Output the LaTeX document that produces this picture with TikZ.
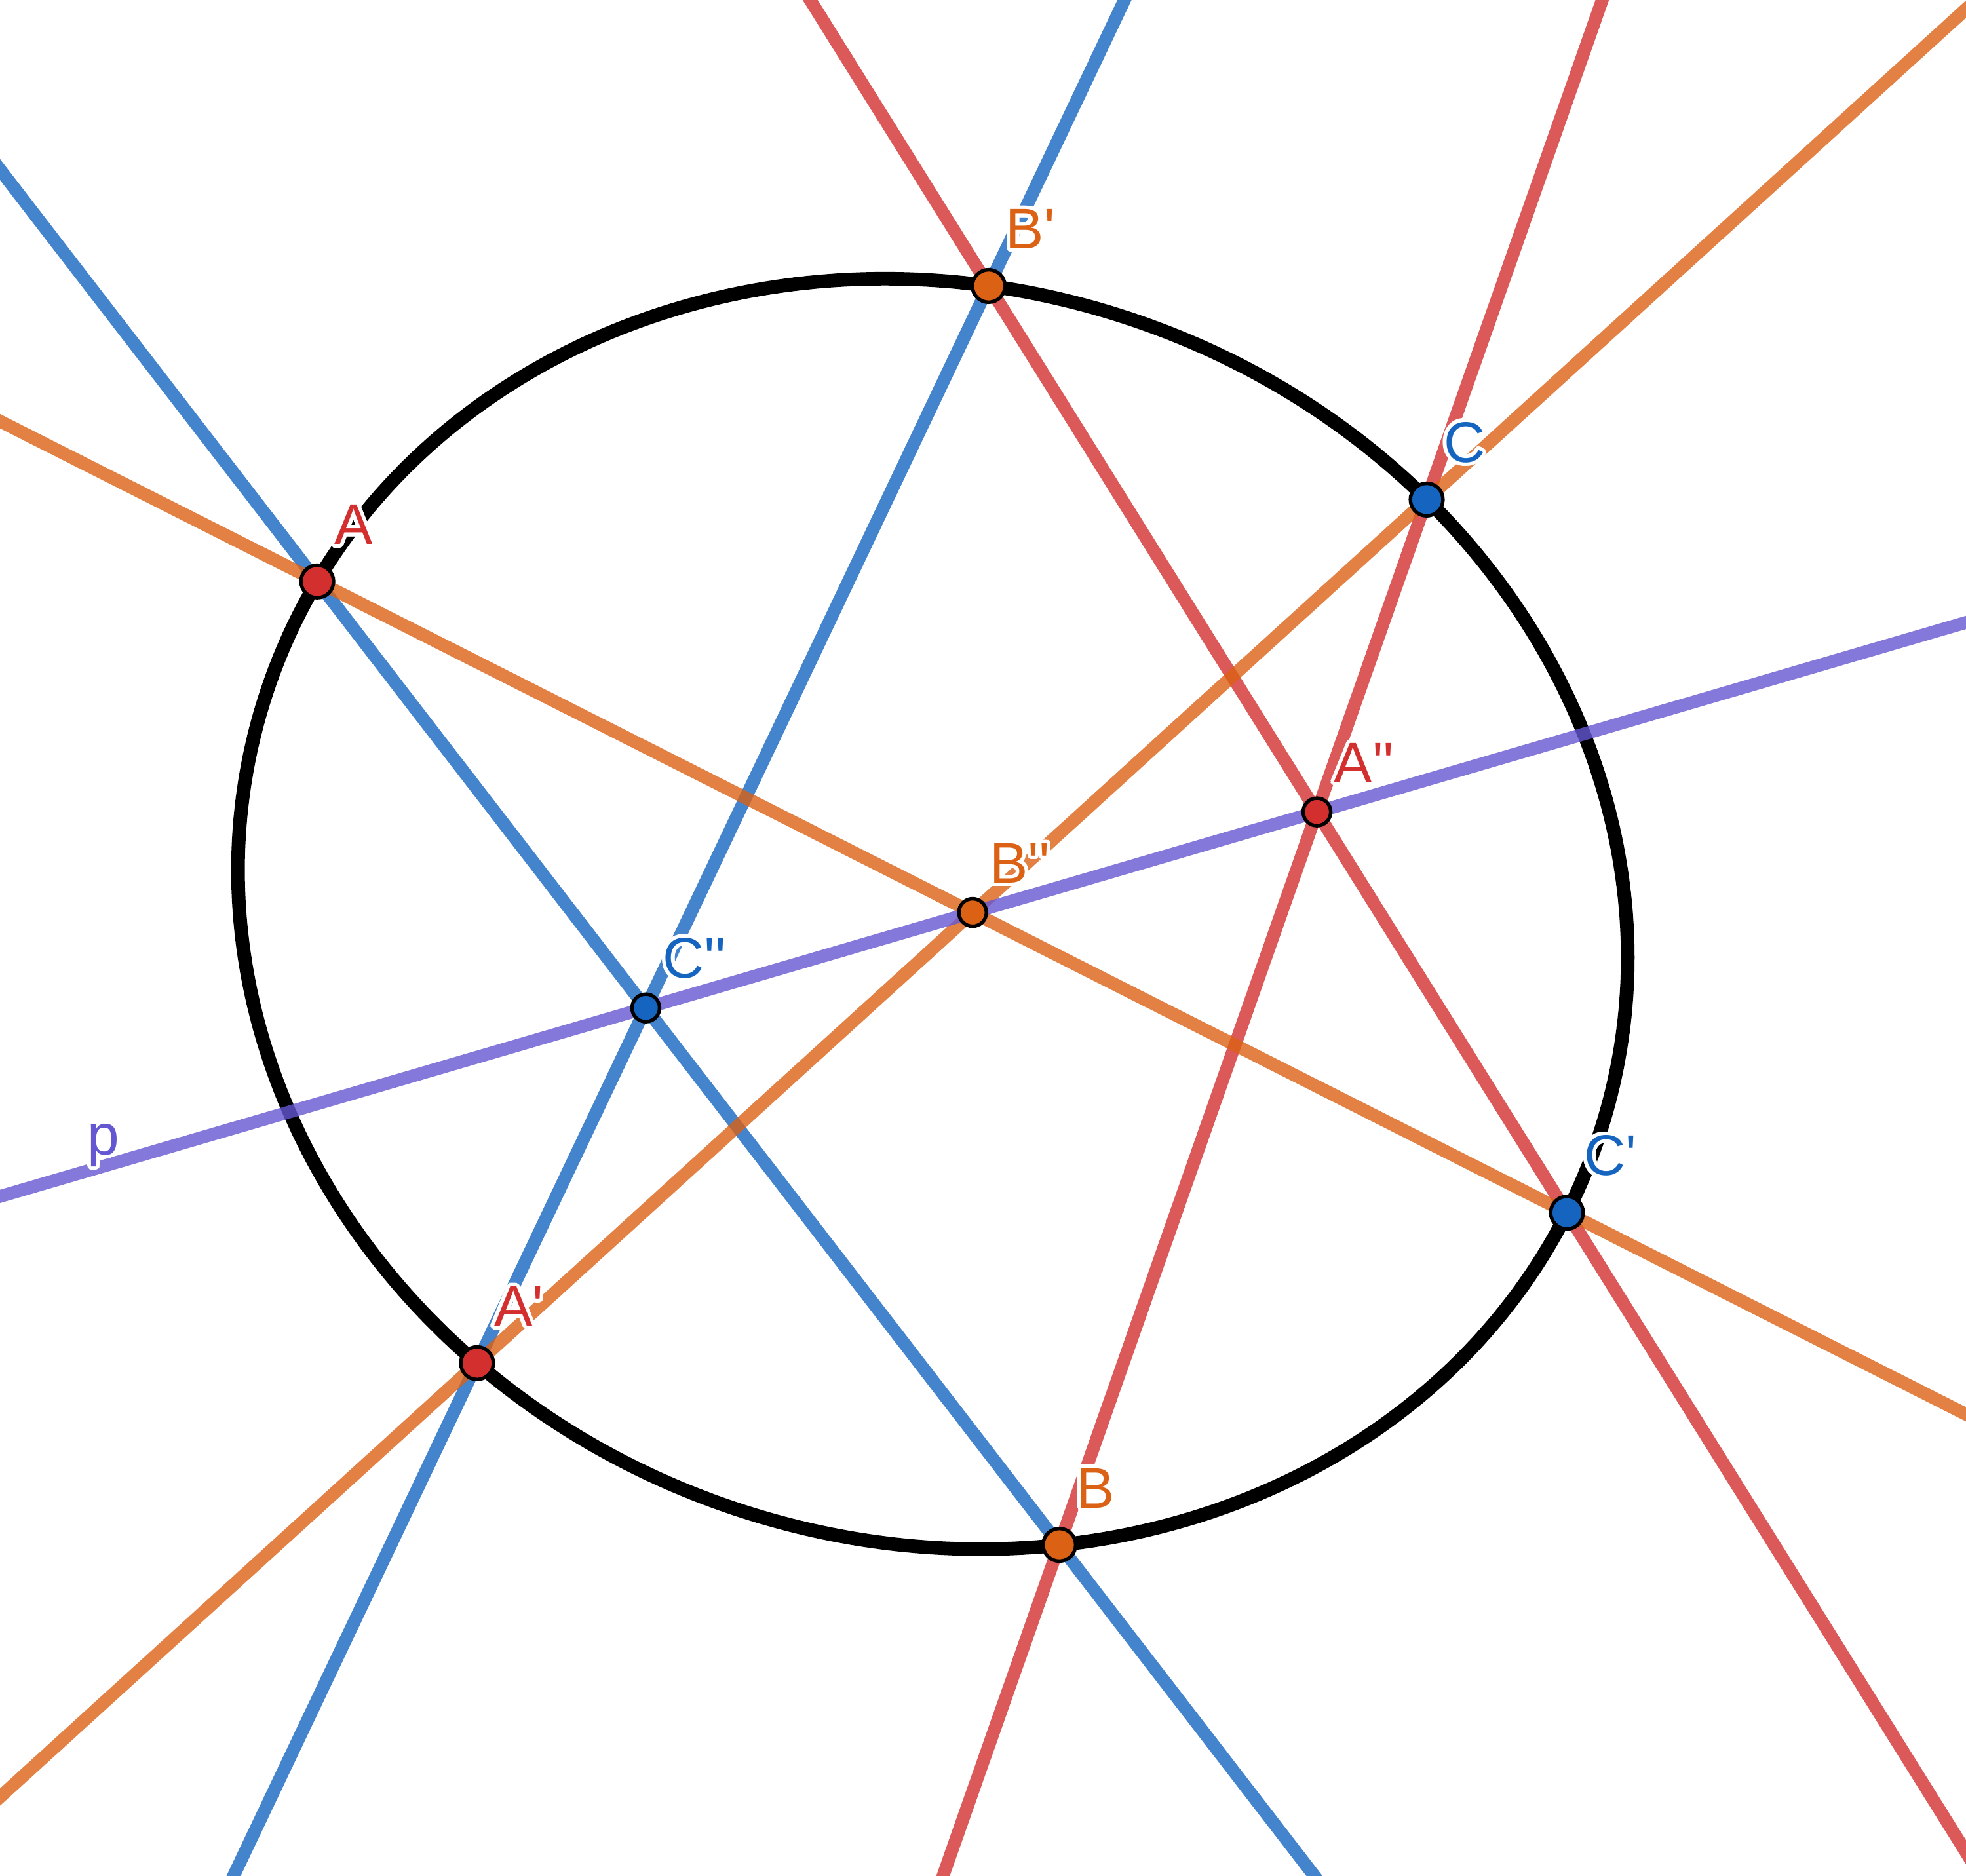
\documentclass[tikz,border=0pt]{standalone}
\usepackage{fontspec}
\setmainfont{Liberation Sans}
\usepackage[copies]{contour}
\contourlength{0.8pt}
\contournumber{24}
\usetikzlibrary{positioning}
\definecolor{ggred}{HTML}{D32F2F}
\definecolor{ggorange}{HTML}{DB6114}
\definecolor{ggblue}{HTML}{1565C0}
\definecolor{ggpurple}{HTML}{6557D2}
\newcommand{\pq}{\textquotesingle}
\tikzset{
  conic/.style={line width=3.1pt},
  ln/.style={line width=2.9pt, draw opacity=0.8, shorten <=-14cm, shorten >=-14cm},
  bigpt/.style={circle, draw=black, line width=0.8pt, minimum size=0.26cm, inner sep=0pt},
  smallpt/.style={bigpt, minimum size=0.22cm},
  lbl/.style={inner sep=0pt, font=\fontsize{13}{13}\selectfont},
}
\begin{document}
\begin{tikzpicture}
\useasboundingbox (0,0) rectangle (15.68,14.96);
\clip (0,0) rectangle (15.68,14.96);
\begin{scope}[shift={(7.44,7.67)}, rotate=-18.8]
  \draw[conic] (0,0) ellipse [x radius=5.6, y radius=5];
  \coordinate (A) at (169.3:5.6 and 5);
  \coordinate (B) at (-62.6:5.6 and 5);
  \coordinate (C) at (61.6:5.6 and 5);
  \coordinate (Ap) at (245.9:5.6 and 5);
  \coordinate (Bp) at (102.3:5.6 and 5);
  \coordinate (Cp) at (-7.2:5.6 and 5);
\end{scope}
\coordinate (App) at (intersection of Bp--Cp and C--B);
\coordinate (Bpp) at (intersection of A--Cp and C--Ap);
\coordinate (Cpp) at (intersection of A--B and Ap--Bp);

\draw[ln, ggblue] (A) -- (B);
\draw[ln, ggblue] (Ap) -- (Bp);
\draw[ln, ggred] (Bp) -- (Cp);
\draw[ln, ggred] (C) -- (B);
\draw[ln, ggorange] (A) -- (Cp);
\draw[ln, ggorange] (C) -- (Ap);
\draw[ln, ggpurple] (Cpp) -- (App);

\node[bigpt, fill=ggred] (dA) at (A) {};
\node[bigpt, fill=ggred] (dAp) at (Ap) {};
\node[smallpt, fill=ggred] (dApp) at (App) {};
\node[bigpt, fill=ggorange] (dB) at (B) {};
\node[bigpt, fill=ggorange] (dBp) at (Bp) {};
\node[smallpt, fill=ggorange] (dBpp) at (Bpp) {};
\node[bigpt, fill=ggblue] (dC) at (C) {};
\node[bigpt, fill=ggblue] (dCp) at (Cp) {};
\node[smallpt, fill=ggblue] (dCpp) at (Cpp) {};

\node[lbl, text=ggred, above right=0.26cm and 0.13cm of A] (lA) {\contour{white}{A}};
\node[lbl, text=ggred, above right=0.26cm and 0.13cm of Ap] (lAp) {\contour{white}{A\pq}};
\node[lbl, text=ggred, above right=0.2cm and 0.13cm of App] (lApp) {\contour{white}{A\pq\pq}};
\node[lbl, text=ggorange, above right=0.26cm and 0.13cm of B] (lB) {\contour{white}{B}};
\node[lbl, text=ggorange, above right=0.26cm and 0.13cm of Bp] (lBp) {\contour{white}{B\pq}};
\node[lbl, text=ggorange, above right=0.2cm and 0.13cm of Bpp] (lBpp) {\contour{white}{B\pq\pq}};
\node[lbl, text=ggblue, above right=0.26cm and 0.13cm of C] (lC) {\contour{white}{C}};
\node[lbl, text=ggblue, above right=0.26cm and 0.13cm of Cp] (lCp) {\contour{white}{C\pq}};
\node[lbl, text=ggblue, above right=0.2cm and 0.13cm of Cpp] (lCpp) {\contour{white}{C\pq\pq}};
\node[lbl, text=ggpurple, anchor=base west] (lp) at (0.69,5.75) {\contour{white}{p}};
\end{tikzpicture}
\end{document}
